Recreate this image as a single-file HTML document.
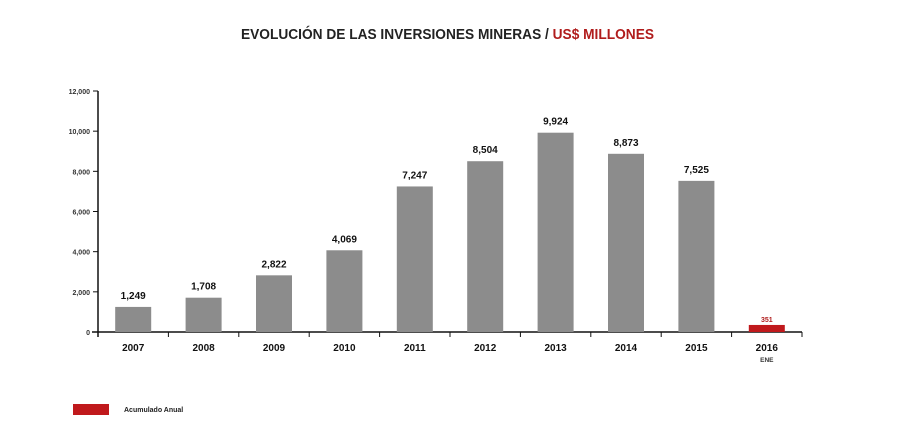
<!DOCTYPE html>
<html><head><meta charset="utf-8"><style>
body{margin:0;background:#fff;width:900px;height:432px;overflow:hidden;font-family:"Liberation Sans",sans-serif}
</style></head><body>
<svg width="900" height="432">
<text x="241" y="39" textLength="413" lengthAdjust="spacingAndGlyphs" font-size="14.5" font-weight="bold" fill="#222">EVOLUCIÓN DE LAS INVERSIONES MINERAS / <tspan fill="#b01c1c">US$ MILLONES</tspan></text>
<g id="axes"></g><g id="bars"></g>
<rect x="73" y="404" width="36" height="11" fill="#c0191c"/>
<text x="124" y="412" font-size="7" font-weight="bold" fill="#222">Acumulado Anual</text>
</svg>
<script>
const categories=["2007","2008","2009","2010","2011","2012","2013","2014","2015","2016"];
const values=[1249,1708,2822,4069,7247,8504,9924,8873,7525,351];
const labels=["1,249","1,708","2,822","4,069","7,247","8,504","9,924","8,873","7,525","351"];
const yTicks=[0,2000,4000,6000,8000,10000,12000];
const yTickLabels=["0","2,000","4,000","6,000","8,000","10,000","12,000"];
const NS="http://www.w3.org/2000/svg";
const x0=98,x1=802,y0=332,y1=91,yMax=12000;
const band=(x1-x0)/categories.length;
const ys=v=>y0-(v/yMax)*(y0-y1);
const xs=i=>x0+band*i+band/2;
function mk(t,a,p){const e=document.createElementNS(NS,t);for(const k in a)e.setAttribute(k,a[k]);p.appendChild(e);return e;}
const ax=document.getElementById('axes'),bg=document.getElementById('bars');
let yl=mk('line',{x1:x0,x2:x0,y1:y1,y2:y0+5,stroke:'#111','stroke-width':1.5},ax);


let xl=mk('line',{x1:x0-6,x2:x1,y1:y0,y2:y0,stroke:'#111','stroke-width':1.5},ax);


yTicks.forEach((v,i)=>{
 mk('line',{x1:x0-5,x2:x0,y1:ys(v),y2:ys(v),stroke:'#111'},ax);
 const t=mk('text',{x:x0-8,y:ys(v)+3,'text-anchor':'end','font-size':7,'font-weight':'bold',fill:'#333'},ax);
 t.textContent=yTickLabels[i];
 
 
});
for(let i=0;i<=categories.length;i++){mk('line',{x1:x0+band*i,x2:x0+band*i,y1:y0,y2:y0+5,stroke:'#111'},ax);}
categories.forEach((c,i)=>{
 const last=i===categories.length-1;
 const r=mk('rect',{x:xs(i)-18,y:ys(values[i]),width:36,height:y0-ys(values[i]),fill:last?'#c0191c':'#8c8c8c'},bg);
 
 
 const l=mk('text',{x:xs(i),y:ys(values[i])-(last?3:8),'text-anchor':'middle','font-size':last?7:10,'font-weight':'bold',fill:last?'#b01c1c':'#111'},bg);
 l.textContent=labels[i];
 
 
 const t=mk('text',{x:xs(i),y:y0+19,'text-anchor':'middle','font-size':10,'font-weight':'bold',fill:'#111'},ax);
 t.textContent=c;
 
 
});
const ene=mk('text',{x:xs(9),y:y0+30,'text-anchor':'middle','font-size':6.5,'font-weight':'bold',fill:'#333'},ax);
ene.textContent='ENE';


</script>
</body></html>
